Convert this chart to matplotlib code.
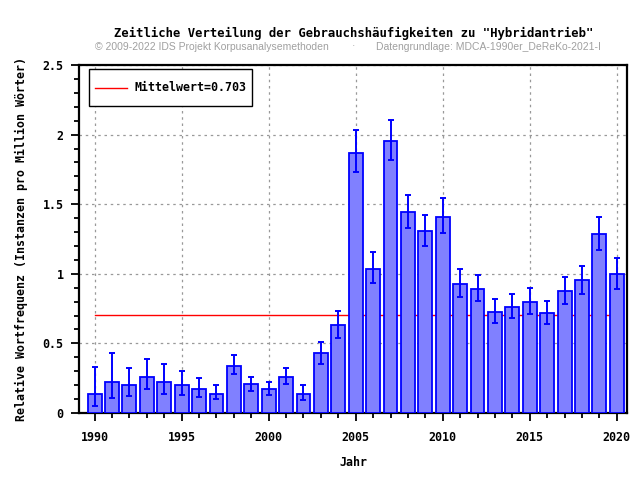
import matplotlib
matplotlib.use('Agg')
import matplotlib.pyplot as plt
from matplotlib.ticker import MultipleLocator
from matplotlib.legend_handler import HandlerLine2D
import numpy as np

# Werte
jahre = list(range(1990, 2021))
werte = [0.14, 0.22, 0.20, 0.26, 0.225, 0.20, 0.175, 0.14, 0.34, 0.21,
         0.175, 0.26, 0.14, 0.43, 0.635, 1.87, 1.037, 1.956, 1.446, 1.31,
         1.41, 0.93, 0.893, 0.728, 0.764, 0.80, 0.72, 0.879, 0.958, 1.288, 1.0]
fehler_oben = [0.33, 0.43, 0.32, 0.39, 0.35, 0.30, 0.25, 0.20, 0.42, 0.26,
               0.225, 0.325, 0.20, 0.51, 0.735, 2.03, 1.157, 2.105, 1.566, 1.42,
               1.545, 1.035, 0.994, 0.819, 0.857, 0.898, 0.807, 0.979, 1.058, 1.41, 1.116]
fehler_unten = [0.05, 0.11, 0.12, 0.17, 0.14, 0.13, 0.115, 0.10, 0.28, 0.16,
                0.13, 0.21, 0.095, 0.35, 0.54, 1.73, 0.936, 1.82, 1.33, 1.20,
                1.295, 0.836, 0.807, 0.649, 0.682, 0.713, 0.639, 0.785, 0.857, 1.173, 0.893]
mittelwert = 0.703
y_ticks = [0, 0.5, 1, 1.5, 2, 2.5]
y_labels = ['0', '0.5', '1', '1.5', '2', '2.5']

mono = 'DejaVu Sans Mono'
fs = 8.4


class MittigeLinie(HandlerLine2D):
    # Linie im Legendenfeld auf Texthoehe setzen
    def create_artists(self, legend, orig_handle, xdescent, ydescent, width,
                       height, fontsize, trans):
        arts = super().create_artists(legend, orig_handle, xdescent, ydescent,
                                      width, height, fontsize, trans)
        for a in arts:
            y = np.asarray(a.get_ydata(), dtype=float)
            a.set_ydata(y - 3.6)
        return arts


fig = plt.figure(figsize=(6.4, 4.8), dpi=100)
ax = fig.add_axes([0.1234, 0.1396, 0.8566, 0.725])

w = np.array(werte)
yerr = [w - np.array(fehler_unten), np.array(fehler_oben) - w]

ax.bar(jahre, werte, width=0.8, color='#8080ff', edgecolor='#0000ff',
       linewidth=1.3, zorder=3)
ax.errorbar(jahre, werte, yerr=yerr, fmt='none', ecolor='#0000ff',
            elinewidth=1.4, capsize=2.5, capthick=1.4, zorder=4)
# Mittelwertlinie ueber den Datenbereich
mline, = ax.plot([jahre[0], jahre[-1]], [mittelwert, mittelwert], color='red',
                 linewidth=1, zorder=2, label='Mittelwert=0.703')

ax.set_xlim(1989.1, 2020.6)
ax.set_ylim(0, 2.5)
ax.xaxis.set_major_locator(MultipleLocator(5))
ax.xaxis.set_minor_locator(MultipleLocator(1))
ax.yaxis.set_minor_locator(MultipleLocator(0.1))
ax.set_yticks(y_ticks)
ax.set_yticklabels(y_labels)

ax.tick_params(axis='both', which='major', direction='out', length=6, width=1.3,
               labelsize=fs)
ax.tick_params(axis='both', which='minor', direction='out', length=3.5, width=1.3)
ax.tick_params(axis='x', which='major', pad=7)
ax.tick_params(axis='y', which='major', pad=5)
for lab in ax.get_xticklabels() + ax.get_yticklabels():
    lab.set_family(mono)
    lab.set_fontweight('bold')

for s in ax.spines.values():
    s.set_linewidth(1.6)

ax.grid(True, which='major', linestyle=(0, (2, 3)), color='#999999', linewidth=0.9,
        zorder=0)
ax.set_axisbelow(True)

ax.set_xlabel('Jahr', family=mono, fontweight='bold', fontsize=fs, labelpad=8.5)
ax.set_ylabel('Relative Wortfrequenz (Instanzen pro Million Wörter)', family=mono,
              fontweight='bold', fontsize=fs, labelpad=10.5)

leg = ax.legend(loc='upper left', prop={'family': mono, 'weight': 'bold', 'size': fs},
                fancybox=False, framealpha=1, edgecolor='black', borderpad=0.5,
                handlelength=2.8, handleheight=2.95, handletextpad=0.6,
                borderaxespad=0, bbox_to_anchor=(0.018, 0.9885),
                handler_map={mline: MittigeLinie()})
leg.get_frame().set_linewidth(1)

fig.text(0.553, 0.93, 'Zeitliche Verteilung der Gebrauchshäufigkeiten zu "Hybridantrieb"',
         ha='center', va='center', family=mono, fontweight='bold', fontsize=8.8)
fig.text(0.148, 0.903, '© 2009-2022 IDS Projekt Korpusanalysemethoden',
         ha='left', va='center', family='Liberation Sans', fontsize=7.5, color='#a0a0a0')
fig.text(0.552, 0.903, '·', ha='center', va='center', family='Liberation Sans',
         fontsize=7.5, color='#a0a0a0')
fig.text(0.587, 0.903, 'Datengrundlage: MDCA-1990er_DeReKo-2021-I',
         ha='left', va='center', family='Liberation Sans', fontsize=7.5, color='#a0a0a0')

fig.savefig('out.png', dpi=100)
